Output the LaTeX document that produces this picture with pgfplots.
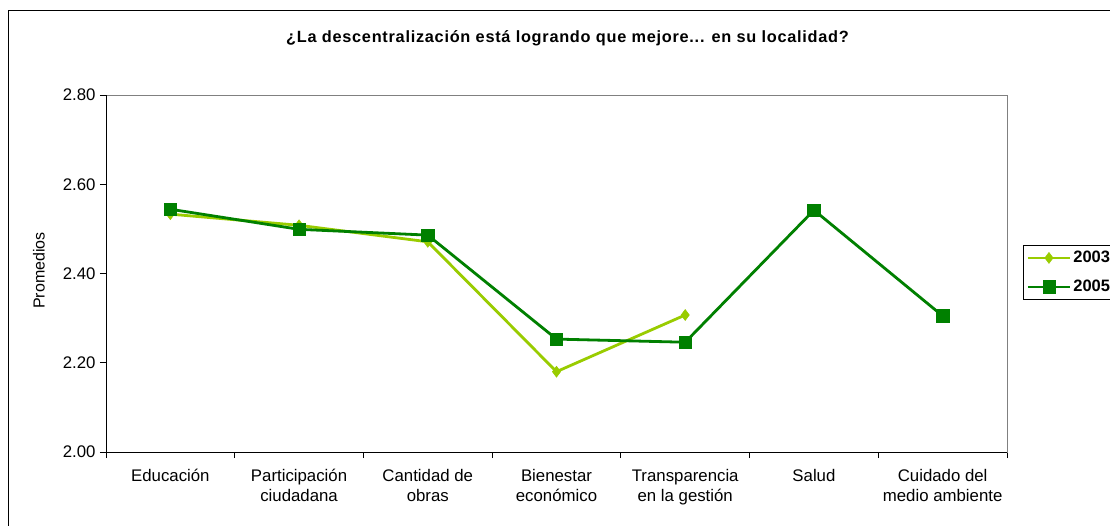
\documentclass[border=0pt]{standalone}
\usepackage{fontspec}
\setmainfont{Liberation Sans}
\usepackage{pgfplots}
\pgfplotsset{compat=1.18}
\definecolor{c2003}{HTML}{99CC00}
\definecolor{c2005}{HTML}{008000}
\definecolor{frame}{HTML}{808080}
\newcommand{\fs}{\fontsize{16.8}{20}\selectfont}
\begin{document}
\begin{tikzpicture}[x=1pt,y=1pt]
\useasboundingbox (0,0) rectangle (1110,525);
\clip (0,0) rectangle (1110,525);
\fill[white] (0,0) rectangle (1110,525);
\draw[black, line width=1pt] (8,-20) rectangle (1300,514);
\node[font=\fontsize{16.3}{19}\bfseries\selectfont\addfontfeature{LetterSpace=4.5}, anchor=base] at (567.5,482) {¿La descentralización está logrando que mejore... en su localidad?};
\node[font=\fontsize{16}{19}\selectfont, rotate=90, anchor=center] at (39,254.5) {Promedios};
\begin{axis}[
  at={(106pt,73pt)}, anchor=south west,
  scale only axis, width=901pt, height=357pt,
  xmin=-0.5, xmax=6.5, ymin=2, ymax=2.8,
  axis line style={draw=frame, line width=1pt},
  xtick={0,...,6},
  xticklabels={Educación, Participación\\ciudadana, Cantidad de\\obras, Bienestar\\económico, Transparencia\\en la gestión, Salud, Cuidado del\\medio ambiente},
  xticklabel style={align=center, font=\fs, text depth=0pt, yshift=-8pt},
  minor xtick={-0.5,0.5,...,6.5},
  major x tick style={draw=none},
  minor tick length=6pt,
  major tick length=6pt,
  tick align=outside,
  tick pos=left,
  tick style={black, line width=1pt},
  ytick={2,2.2,2.4,2.6,2.8},
  yticklabel style={font=\fs, xshift=-1pt},
  /pgf/number format/.cd, fixed, fixed zerofill, precision=2, assume math mode=true,
  /pgfplots/.cd,
  legend style={at={(rel axis cs:1.0178,0.503)}, anchor=west, draw=black, line width=1pt,
    font=\fontsize{16.5}{20}\bfseries\selectfont, inner xsep=3pt, inner ysep=4pt,
    row sep=12pt, cells={anchor=west}},
  legend image code/.code={\draw[line width=2.8pt, mark repeat=2,mark phase=2] plot coordinates {(0pt,0pt)(21pt,0pt)(42pt,0pt)};},
  after end axis/.code={\draw[black, line width=1pt] (rel axis cs:0,1) -- (rel axis cs:0,0) -- (rel axis cs:1,0);},
  clip=false,
]
\addplot[c2003, line width=2.8pt, mark=diamond*, mark size=5.5pt, mark options={solid, line width=0.5pt, fill=c2003}]
  coordinates {(0,2.533) (1,2.508) (2,2.471) (3,2.180) (4,2.307)};
\addlegendentry{2003}
\addplot[c2005, line width=2.8pt, mark=square*, mark size=6.2pt, mark options={solid, line width=0.5pt, fill=c2005}]
  coordinates {(0,2.544) (1,2.499) (2,2.486) (3,2.253) (4,2.246) (5,2.542) (6,2.305)};
\addlegendentry{2005}
\end{axis}
\end{tikzpicture}
\end{document}
